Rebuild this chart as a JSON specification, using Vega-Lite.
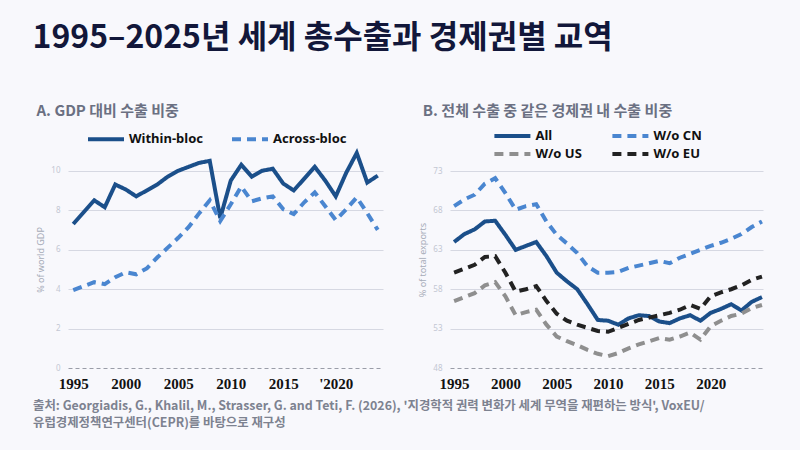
{
  "$schema": "https://vega.github.io/schema/vega-lite/v6.json",
  "background": "#f8f8fc",
  "padding": {"left": 32, "top": 22, "right": 40, "bottom": 22},
  "title": {
    "text": "1995–2025년 세계 총수출과 경제권별 교역",
    "anchor": "start",
    "font": "Noto Sans CJK KR",
    "fontSize": 32,
    "fontWeight": "bold",
    "color": "#12173a",
    "offset": 49
  },
  "datasets": {
    "gdp": [
      {"year": 1995, "Within-bloc": 7.3, "Across-bloc": 3.95},
      {"year": 1996, "Within-bloc": 7.9, "Across-bloc": 4.15},
      {"year": 1997, "Within-bloc": 8.5, "Across-bloc": 4.35},
      {"year": 1998, "Within-bloc": 8.15, "Across-bloc": 4.25},
      {"year": 1999, "Within-bloc": 9.3, "Across-bloc": 4.6},
      {"year": 2000, "Within-bloc": 9.05, "Across-bloc": 4.85},
      {"year": 2001, "Within-bloc": 8.7, "Across-bloc": 4.75},
      {"year": 2002, "Within-bloc": 9.0, "Across-bloc": 5.05},
      {"year": 2003, "Within-bloc": 9.3, "Across-bloc": 5.6},
      {"year": 2004, "Within-bloc": 9.7, "Across-bloc": 6.1},
      {"year": 2005, "Within-bloc": 10.0, "Across-bloc": 6.6},
      {"year": 2006, "Within-bloc": 10.2, "Across-bloc": 7.15},
      {"year": 2007, "Within-bloc": 10.4, "Across-bloc": 7.85},
      {"year": 2008, "Within-bloc": 10.5, "Across-bloc": 8.5},
      {"year": 2009, "Within-bloc": 7.6, "Across-bloc": 7.45},
      {"year": 2010, "Within-bloc": 9.5, "Across-bloc": 8.3},
      {"year": 2011, "Within-bloc": 10.3, "Across-bloc": 9.2},
      {"year": 2012, "Within-bloc": 9.7, "Across-bloc": 8.45},
      {"year": 2013, "Within-bloc": 10.0, "Across-bloc": 8.6},
      {"year": 2014, "Within-bloc": 10.1, "Across-bloc": 8.7},
      {"year": 2015, "Within-bloc": 9.35, "Across-bloc": 8.05},
      {"year": 2016, "Within-bloc": 9.0, "Across-bloc": 7.8},
      {"year": 2017, "Within-bloc": 9.6, "Across-bloc": 8.4},
      {"year": 2018, "Within-bloc": 10.2, "Across-bloc": 8.9},
      {"year": 2019, "Within-bloc": 9.5, "Across-bloc": 8.2},
      {"year": 2020, "Within-bloc": 8.7, "Across-bloc": 7.5},
      {"year": 2021, "Within-bloc": 9.9, "Across-bloc": 8.05},
      {"year": 2022, "Within-bloc": 10.9, "Across-bloc": 8.65},
      {"year": 2023, "Within-bloc": 9.4, "Across-bloc": 7.85},
      {"year": 2024, "Within-bloc": 9.75, "Across-bloc": 7.0}
    ],
    "exports": [
      {"year": 1995, "All": 64.0, "W/o CN": 68.55, "W/o US": 56.5, "W/o EU": 60.1},
      {"year": 1996, "All": 65.0, "W/o CN": 69.4, "W/o US": 57.0, "W/o EU": 60.6},
      {"year": 1997, "All": 65.6, "W/o CN": 70.0, "W/o US": 57.5, "W/o EU": 61.1},
      {"year": 1998, "All": 66.6, "W/o CN": 71.4, "W/o US": 58.5, "W/o EU": 62.1},
      {"year": 1999, "All": 66.7, "W/o CN": 72.1, "W/o US": 58.9, "W/o EU": 62.2},
      {"year": 2000, "All": 64.9, "W/o CN": 70.2, "W/o US": 57.1, "W/o EU": 60.1},
      {"year": 2001, "All": 63.0, "W/o CN": 68.1, "W/o US": 54.7, "W/o EU": 57.7},
      {"year": 2002, "All": 63.5, "W/o CN": 68.55, "W/o US": 55.1, "W/o EU": 58.0},
      {"year": 2003, "All": 64.0, "W/o CN": 68.8, "W/o US": 55.4, "W/o EU": 58.4},
      {"year": 2004, "All": 62.2, "W/o CN": 66.6, "W/o US": 53.5, "W/o EU": 56.5},
      {"year": 2005, "All": 60.1, "W/o CN": 64.9, "W/o US": 52.0, "W/o EU": 54.9},
      {"year": 2006, "All": 59.0, "W/o CN": 63.8, "W/o US": 51.4, "W/o EU": 54.0},
      {"year": 2007, "All": 58.0, "W/o CN": 62.6, "W/o US": 50.9, "W/o EU": 53.5},
      {"year": 2008, "All": 56.1, "W/o CN": 60.9, "W/o US": 50.3, "W/o EU": 53.1},
      {"year": 2009, "All": 54.1, "W/o CN": 60.1, "W/o US": 49.8, "W/o EU": 52.7},
      {"year": 2010, "All": 54.0, "W/o CN": 60.1, "W/o US": 49.5, "W/o EU": 52.6},
      {"year": 2011, "All": 53.5, "W/o CN": 60.2, "W/o US": 49.9, "W/o EU": 53.1},
      {"year": 2012, "All": 54.3, "W/o CN": 60.7, "W/o US": 50.5, "W/o EU": 53.6},
      {"year": 2013, "All": 54.7, "W/o CN": 61.0, "W/o US": 51.0, "W/o EU": 54.1},
      {"year": 2014, "All": 54.6, "W/o CN": 61.3, "W/o US": 51.4, "W/o EU": 54.4},
      {"year": 2015, "All": 53.9, "W/o CN": 61.6, "W/o US": 51.8, "W/o EU": 54.7},
      {"year": 2016, "All": 53.7, "W/o CN": 61.3, "W/o US": 51.6, "W/o EU": 55.0},
      {"year": 2017, "All": 54.3, "W/o CN": 62.0, "W/o US": 52.0, "W/o EU": 55.4},
      {"year": 2018, "All": 54.7, "W/o CN": 62.5, "W/o US": 52.5, "W/o EU": 56.0},
      {"year": 2019, "All": 54.0, "W/o CN": 63.0, "W/o US": 51.6, "W/o EU": 55.5},
      {"year": 2020, "All": 55.0, "W/o CN": 63.5, "W/o US": 53.3, "W/o EU": 57.1},
      {"year": 2021, "All": 55.5, "W/o CN": 63.9, "W/o US": 54.0, "W/o EU": 57.6},
      {"year": 2022, "All": 56.1, "W/o CN": 64.4, "W/o US": 54.6, "W/o EU": 58.0},
      {"year": 2023, "All": 55.3, "W/o CN": 65.0, "W/o US": 54.9, "W/o EU": 58.5},
      {"year": 2024, "All": 56.4, "W/o CN": 65.9, "W/o US": 55.6, "W/o EU": 59.2},
      {"year": 2025, "All": 57.0, "W/o CN": 66.6, "W/o US": 56.0, "W/o EU": 59.6}
    ]
  },
  "bounds": "flush",
  "spacing": 67,
  "resolve": {"scale": {"color": "independent", "strokeDash": "independent"}, "legend": {"color": "independent", "strokeDash": "independent"}},
  "hconcat": [
    {
      "width": 315,
      "height": 217,
      "title": {"text": "A. GDP 대비 수출 비중", "dx": 4, "offset": 12.5},
      "data": {"name": "gdp"},
      "transform": [{"fold": ["Within-bloc", "Across-bloc"], "as": ["series", "value"]}],
      "mark": {"type": "line", "strokeWidth": 4},
      "encoding": {
        "x": {
          "field": "year", "type": "quantitative",
          "scale": {"domain": [1994.5, 2024.5], "nice": false, "zero": false},
          "axis": {
            "values": [1995, 2000, 2005, 2010, 2015, 2020],
            "labelExpr": "datum.value == 2020 ? \"'2020\" : datum.value",
            "title": ["출처: Georgiadis, G., Khalil, M., Strasser, G. and Teti, F. (2026), '지경학적 권력 변화가 세계 무역을 재편하는 방식', VoxEU/", "유럽경제정책연구센터(CEPR)를 바탕으로 재구성"],
            "titleX": -35.5,
            "titleY": 31,
            "titleAlign": "left",
            "titleAnchor": null,
            "titleBaseline": "top",
            "titleFont": "Noto Sans CJK KR",
            "titleFontSize": 12.4,
            "titleFontWeight": "bold",
            "titleColor": "#7d8290",
            "titleLineHeight": 17.5
          }
        },
        "y": {
          "field": "value", "type": "quantitative",
          "scale": {"domain": [0, 11], "nice": false},
          "axis": {"values": [0, 2, 4, 6, 8, 10], "title": "% of world GDP"}
        },
        "color": {
          "field": "series", "type": "nominal",
          "scale": {"domain": ["Within-bloc", "Across-bloc"], "range": ["#1b4f8a", "#4a86d0"]},
          "legend": {"legendX": 18, "legendY": -19.2, "columnPadding": 27}
        },
        "strokeDash": {
          "field": "series", "type": "nominal",
          "scale": {"domain": ["Within-bloc", "Across-bloc"], "range": [[1, 0], [9, 6]]},
          "legend": {"legendX": 18, "legendY": -19.2, "columnPadding": 27}
        }
      }
    },
    {
      "width": 313,
      "height": 217,
      "title": {"text": "B. 전체 수출 중 같은 경제권 내 수출 비중", "dx": 4, "offset": 9.5},
      "data": {"name": "exports"},
      "transform": [{"fold": ["All", "W/o CN", "W/o US", "W/o EU"], "as": ["series", "value"]}],
      "mark": {"type": "line", "strokeWidth": 4},
      "encoding": {
        "x": {
          "field": "year", "type": "quantitative",
          "scale": {"domain": [1994.6, 2025.1], "nice": false, "zero": false},
          "axis": {"values": [1995, 2000, 2005, 2010, 2015, 2020], "format": "d", "title": null}
        },
        "y": {
          "field": "value", "type": "quantitative",
          "scale": {"domain": [48, 75.55], "nice": false, "zero": false},
          "axis": {"values": [48, 53, 58, 63, 68, 73], "title": "% of total exports"}
        },
        "color": {
          "field": "series", "type": "nominal",
          "scale": {"domain": ["All", "W/o CN", "W/o US", "W/o EU"], "range": ["#1b4f8a", "#4a86d0", "#8f8f8f", "#222222"]},
          "legend": {"legendX": 42.4, "legendY": -22.5, "columnPadding": 28}
        },
        "strokeDash": {
          "field": "series", "type": "nominal",
          "scale": {"domain": ["All", "W/o CN", "W/o US", "W/o EU"], "range": [[1, 0], [9, 6], [9, 6], [9, 6]]},
          "legend": {"legendX": 42.4, "legendY": -22.5, "columnPadding": 28}
        }
      }
    }
  ],
  "config": {
    "view": {"stroke": null},
    "font": "Noto Sans CJK KR",
    "title": {
      "anchor": "start",
      "fontSize": 15,
      "fontWeight": "bold",
      "color": "#6b7082"
    },
    "axisX": {
      "grid": false,
      "ticks": false,
      "domain": false,
      "labelFont": "Liberation Serif",
      "labelFontSize": 15,
      "labelFontWeight": "bold",
      "labelColor": "#111111",
      "labelPadding": 8,
      "labelFlush": false
    },
    "axisY": {
      "domain": false,
      "ticks": false,
      "gridColor": {"condition": {"test": "datum.value == 0 || datum.value == 48", "value": "#9a9da8"}, "value": "#d6d8e2"},
      "gridDash": {"condition": {"test": "datum.value == 0 || datum.value == 48", "value": [4, 3]}, "value": []},
      "gridWidth": 1,
      "labelFont": "Noto Sans",
      "labelFontSize": 8,
      "labelColor": "#c3c7d3",
      "labelPadding": 8,
      "titleFont": "Noto Sans",
      "titleFontSize": 9,
      "titleFontWeight": "normal",
      "titleColor": "#a6abb8",
      "titlePadding": 5
    },
    "legend": {
      "orient": "none",
      "direction": "horizontal",
      "columns": 2,
      "title": null,
      "labelFont": "Noto Sans",
      "labelFontSize": 13,
      "labelFontWeight": "bold",
      "labelColor": "#111111",
      "labelOffset": 3,
      "symbolType": "stroke",
      "symbolSize": 1296,
      "symbolStrokeWidth": 4,
      "clipHeight": 15,
      "rowPadding": 3
    }
  }
}
